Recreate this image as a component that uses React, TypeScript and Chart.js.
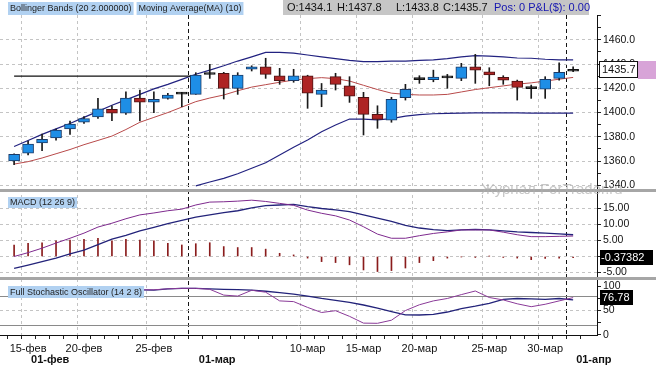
import React, { useEffect, useRef } from 'react';
import { Chart, registerables } from 'chart.js';

Chart.register(...registerables);

const W = 656;
const H = 367;
const FONT = 'Arial, "Liberation Sans", Helvetica, sans-serif';

// ---------- price data (one candle per trading session) ----------
const opens = [1360, 1366.5, 1375, 1379, 1386.5, 1392, 1396.5, 1402.7, 1399.5, 1412, 1408.5, 1411.7, 1415.2, 1415, 1432.6, 1432.4, 1420, 1435.7, 1437.8, 1430.4, 1426.3, 1430.4, 1415, 1429.6, 1422.1, 1412.6, 1398.5, 1393.8, 1412.2, 1427.2, 1427.2, 1428.6, 1428.2, 1437.8, 1433.7, 1429, 1426, 1420.2, 1419.4, 1428.2, 1434.1];
const highs = [1366, 1376.5, 1382.3, 1386.4, 1393, 1396.6, 1411.7, 1405.6, 1417.2, 1418.6, 1417.2, 1415.9, 1416.7, 1432.9, 1439.8, 1433.2, 1432.9, 1438.6, 1444.8, 1436.5, 1435.7, 1430.8, 1424, 1432.4, 1429.6, 1416.7, 1405.6, 1412.6, 1423.3, 1430.4, 1435, 1431.5, 1440.6, 1448, 1437, 1430.4, 1426.8, 1422.7, 1429.6, 1441.1, 1437.8];
const lows = [1357, 1365, 1368.5, 1377.3, 1382, 1391, 1395.2, 1393.3, 1398.5, 1393, 1400, 1411, 1404.8, 1415, 1428.2, 1411.2, 1415, 1434.3, 1428.2, 1423.3, 1425, 1403.5, 1404.8, 1418.6, 1408.4, 1381.5, 1387, 1392, 1410.3, 1424.1, 1425.4, 1420, 1426.3, 1424.1, 1422.1, 1423.3, 1410.3, 1411.7, 1411.7, 1426.8, 1433.8];
const closes = [1365.5, 1374, 1378, 1385.5, 1390.5, 1395, 1403, 1399.5, 1412, 1408.5, 1411, 1414.5, 1415.6, 1431, 1431.4, 1420, 1431, 1437.8, 1431.5, 1426.3, 1430.4, 1416, 1418.6, 1423.3, 1413.6, 1398.5, 1394.4, 1410.9, 1419.2, 1427.6, 1429.2, 1429, 1437.8, 1435, 1431, 1426.8, 1420.8, 1419.8, 1427.4, 1433.2, 1435.7];

// Bollinger Bands (20, 2) and MA(10)
const bbUpper = [1372, 1377, 1382, 1386.5, 1391, 1396, 1401, 1406, 1410.5, 1415, 1419.5, 1423.3, 1427.4, 1431.6, 1435, 1438.6, 1442.5, 1446, 1449.7, 1449.7, 1449, 1447.5, 1446, 1444.5, 1443, 1442, 1442, 1442.5, 1442.5, 1443, 1443.4, 1444.5, 1446, 1447, 1446.5, 1446, 1445, 1444.8, 1444, 1443.5, 1443.4];
const bbLower = [null, null, null, null, null, null, null, null, null, null, null, null, null, 1339.5, 1342.7, 1345.7, 1349.5, 1354, 1358.6, 1365, 1371.3, 1377.3, 1384.2, 1389.7, 1394.7, 1394.5, 1394, 1395, 1397, 1398.3, 1399, 1399.3, 1399.6, 1399.8, 1399.8, 1399.8, 1399.7, 1399.6, 1399.6, 1399.5, 1399.5];
const ma10 = [1357.5, 1359.5, 1362.5, 1366, 1369.5, 1373.5, 1377, 1380.6, 1386, 1392, 1396, 1400, 1404.5, 1409, 1412, 1414.5, 1418, 1421, 1423, 1425, 1426.8, 1428, 1428.8, 1428, 1426, 1422.5, 1419, 1416, 1415, 1414.5, 1414.5, 1415, 1417, 1419, 1420.5, 1422, 1423.5, 1424.5, 1426, 1427.5, 1429];

// horizontal level drawn on the price panel
const levelLineIdx = [0, 13];
const levelLineVal = [1430.1, 1430.1];

// MACD (12 26 9)
const macdLine = [0, 1.2, 2.6, 4.2, 5.7, 7.3, 9.2, 10.4, 11.8, 13.0, 13.6, 14.3, 14.8, 16.1, 17.0, 17.1, 17.3, 17.6, 17.2, 16.6, 16.0, 14.5, 13.5, 12.7, 11.4, 9.3, 7.0, 5.7, 5.7, 6.5, 7.2, 7.7, 8.3, 8.3, 8.3, 7.6, 6.8, 6.2, 6.2, 6.3, 6.4];
const macdSignal = [-3.7, -2.7, -1.6, -0.5, 0.8, 2.0, 3.7, 5.4, 6.6, 8.0, 9.1, 10.3, 11.3, 12.3, 13.0, 13.7, 14.3, 15.2, 15.9, 16.1, 16.3, 15.6, 15.0, 14.6, 14.0, 13.0, 12.0, 11.0, 9.7, 8.9, 8.4, 8.1, 8.3, 8.5, 8.3, 8.0, 7.7, 7.5, 7.3, 7.1, 6.8];
const macdHist = [3.6, 4.1, 4.3, 4.9, 5.1, 5.4, 5.7, 4.9, 5.4, 5.1, 4.9, 4.1, 3.6, 4.0, 4.3, 3.1, 2.8, 2.8, 2.3, 1.0, 0.5, -0.5, -1.6, -1.9, -2.6, -4.2, -4.7, -4.4, -3.6, -1.9, -1.3, -0.5, -0.1, -0.3, 0.1, -0.3, -0.5, -1.0, -0.6, -0.5, -0.37382];

// Full Stochastic Oscillator (14 2 8)
const stochK = [87, 90, 92, 93, 94, 94, 95, 94, 95, 93, 93, 95, 96, 96, 94, 82, 80, 92, 88, 70, 68.5, 56.5, 46, 49.7, 38, 24, 23.6, 30, 50, 62, 70, 75, 83, 90.5, 77, 72, 64, 58, 63, 70, 76.78];
const stochD = [85, 88, 90, 91, 92, 93, 93, 94, 94, 93, 92.5, 95, 96, 96, 95, 94, 93.5, 92.5, 90, 87, 84, 80, 75, 71, 67, 61.5, 55, 48, 41, 40.8, 42, 47, 54, 59, 65, 73, 75, 74, 73.3, 75, 72];
const stochLevels = [20, 80];

// ---------- axis labels ----------
const dateTickIdx = [1, 5, 10, 21, 25, 29, 34, 38];
const dateTickText = ['15-фев', '20-фев', '25-фев', '10-мар', '15-мар', '20-мар', '25-мар', '30-мар'];
const monthIdx = [1, 13, 40];
const monthText = ['01-фев', '01-мар', '01-апр'];
const monthLineIdx = [13, 40];

const priceTicks = [1340, 1350, 1360, 1370, 1380, 1390, 1400, 1410, 1420, 1430, 1440, 1450, 1460, 1470, 1480];
const priceLabelVals = [1340, 1360, 1380, 1400, 1420, 1440, 1460];
const priceLabelText = ['1340.0', '1360.0', '1380.0', '1400.0', '1420.0', '1440.0', '1460.0'];
const macdTicks = [-5, 0, 5, 10, 15];
const macdLabelText = ['-5.00', '0.00', '5.00', '10.00', '15.00'];
const stochTicks = [0, 25, 50, 75, 100];
const stochLabelVals = [0, 50, 100];
const stochLabelText = ['0', '50', '100'];

const headerTags = ['Bollinger Bands (20 2.000000)', 'Moving Average(MA) (10)'];
const macdTag = 'MACD (12 26 9)';
const stochTag = 'Full Stochastic Oscillator (14 2 8)';
const posText = 'Pos: 0 P&L($): 0.00';
const watermark = 'Журнал ForTrader.ru';

const last = closes.length - 1;
const idx = closes.map((_, i) => i);

export default function App() {
  const ref = useRef<HTMLCanvasElement | null>(null);

  useEffect(() => {
    const canvas = ref.current;
    if (!canvas) return;

    const isDoji = (i: number) => Math.abs(closes[i] - opens[i]) < 1.7;
    const bodyFill = (i: number) => (isDoji(i) ? '#111111' : closes[i] >= opens[i] ? '#1e8ee6' : '#ae2424');
    const bodyEdge = (i: number) => (isDoji(i) ? '#111111' : closes[i] >= opens[i] ? '#1c3a66' : '#4d1414');

    const overlay = {
      id: 'overlay',
      beforeDatasetsDraw(chart: any) {
        const { ctx, chartArea } = chart;
        const s = chart.scales.stoch;
        ctx.save();
        ctx.strokeStyle = '#8a8a8a';
        ctx.lineWidth = 1;
        stochLevels.forEach((v) => {
          const y = Math.round(s.getPixelForValue(v)) + 0.5;
          ctx.beginPath();
          ctx.moveTo(chartArea.left, y);
          ctx.lineTo(chartArea.right, y);
          ctx.stroke();
        });
        ctx.restore();
      },
      afterDraw(chart: any) {
        const { ctx } = chart;
        const xs = chart.scales.x;
        const ys = chart.scales.y;
        const ms = chart.scales.macd;
        const ss = chart.scales.stoch;
        ctx.save();

        // panel separators
        ctx.fillStyle = '#a6a6a6';
        [ms.top, ss.top].forEach((t: number) => ctx.fillRect(0, Math.round(t) - 1, W, 3));

        // watermark
        ctx.font = `15px ${FONT}`;
        ctx.fillStyle = 'rgba(175,175,175,0.7)';
        ctx.textAlign = 'left';
        ctx.textBaseline = 'alphabetic';
        ctx.fillText(watermark, 481, 194);

        const tag = (text: string, x: number, y: number, h: number, size: number) => {
          ctx.font = `${size}px ${FONT}`;
          const w = ctx.measureText(text).width;
          ctx.fillStyle = '#b1d1f1';
          ctx.fillRect(x, y, w + 4, h);
          ctx.fillStyle = '#1e1e1e';
          ctx.textAlign = 'left';
          ctx.textBaseline = 'middle';
          ctx.fillText(text, x + 2, y + h / 2 + 0.5);
          return x + w + 4;
        };
        const end1 = tag(headerTags[0], 8, 2, 13, 9);
        tag(headerTags[1], end1 + 3, 2, 13, 9);
        tag(macdTag, 8, 197, 11, 9);
        tag(stochTag, 8, 286, 12, 9);

        // OHLC header box
        ctx.fillStyle = '#c6c6c6';
        ctx.fillRect(283, 0, 306, 15);
        ctx.font = `11px ${FONT}`;
        ctx.textBaseline = 'middle';
        ctx.textAlign = 'left';
        ctx.fillStyle = '#111111';
        const ohlc = [
          `O:${opens[last].toFixed(1)}`,
          `H:${highs[last].toFixed(1)}`,
          `L:${lows[last].toFixed(1)}`,
          `C:${closes[last].toFixed(1)}`,
        ];
        const ohlcX = [287, 337, 396, 443];
        ohlc.forEach((t, k) => ctx.fillText(t, ohlcX[k], 8));
        ctx.fillStyle = '#1515b0';
        ctx.fillText(posText, 494, 8);

        // price badge
        const py = ys.getPixelForValue(closes[last]);
        ctx.fillStyle = '#ffffff';
        ctx.fillRect(599, Math.round(py) - 8, 38, 17);
        ctx.strokeStyle = '#111111';
        ctx.lineWidth = 1;
        ctx.strokeRect(599.5, Math.round(py) - 7.5, 38, 16);
        ctx.fillStyle = '#d8a4d8';
        ctx.fillRect(638, Math.round(py) - 8, 18, 18);
        ctx.fillStyle = '#111111';
        ctx.font = `11px ${FONT}`;
        ctx.fillText(closes[last].toFixed(1), 602, py + 0.5);

        // MACD badge
        const my = ms.getPixelForValue(macdHist[last]);
        ctx.fillStyle = '#000000';
        ctx.fillRect(600, Math.round(my) - 8, 53, 15);
        ctx.fillStyle = '#ffffff';
        ctx.fillText(macdHist[last].toFixed(5), 601, my);

        // Stochastic badge
        const sy = ss.getPixelForValue(stochK[last]);
        ctx.fillStyle = '#000000';
        ctx.fillRect(600, Math.round(sy) - 8, 33, 15);
        ctx.fillStyle = '#ffffff';
        ctx.fillText(stochK[last].toFixed(2), 602, sy);

        // month labels (second row)
        ctx.font = `bold 11px ${FONT}`;
        ctx.fillStyle = '#111111';
        ctx.textBaseline = 'middle';
        monthIdx.forEach((i, k) => ctx.fillText(monthText[k], xs.getPixelForValue(i) + 3, 360));

        ctx.restore();
      },
    };

    const fitY = (s: any) => {
      s.width = W - 597;
    };

    const chart = new Chart(canvas, {
      type: 'bar',
      data: {
        datasets: [
          {
            type: 'bar',
            label: 'body',
            data: idx.map((i) => ({ x: i, y: [opens[i], closes[i]] })) as any,
            xAxisID: 'x',
            yAxisID: 'y',
            barThickness: 11,
            grouped: false,
            minBarLength: 2,
            backgroundColor: (c: any) => bodyFill(c.dataIndex),
            borderColor: (c: any) => bodyEdge(c.dataIndex),
            borderWidth: 1,
            borderSkipped: false,
          } as any,
          {
            type: 'bar',
            label: 'wick',
            data: idx.map((i) => ({ x: i, y: [lows[i], highs[i]] })) as any,
            xAxisID: 'x',
            yAxisID: 'y',
            barThickness: 1,
            grouped: false,
            backgroundColor: '#1a1a1a',
            borderWidth: 0,
          } as any,
          {
            type: 'line',
            label: 'level',
            data: levelLineIdx.map((x, k) => ({ x, y: levelLineVal[k] })),
            yAxisID: 'y',
            borderColor: '#111111',
            borderWidth: 1.2,
            pointRadius: 0,
          } as any,
          {
            type: 'line',
            label: 'bbUpper',
            data: idx.map((i) => ({ x: i, y: bbUpper[i] })),
            yAxisID: 'y',
            borderColor: '#222280',
            borderWidth: 1.2,
            pointRadius: 0,
          } as any,
          {
            type: 'line',
            label: 'bbLower',
            data: idx.map((i) => ({ x: i, y: bbLower[i] })),
            yAxisID: 'y',
            borderColor: '#222280',
            borderWidth: 1.2,
            pointRadius: 0,
          } as any,
          {
            type: 'line',
            label: 'ma10',
            data: idx.map((i) => ({ x: i, y: ma10[i] })),
            yAxisID: 'y',
            borderColor: '#b84a4a',
            borderWidth: 1,
            pointRadius: 0,
          } as any,
          {
            type: 'line',
            label: 'macd',
            data: idx.map((i) => ({ x: i, y: macdLine[i] })),
            yAxisID: 'macd',
            borderColor: '#7e2a8e',
            borderWidth: 1,
            pointRadius: 0,
          } as any,
          {
            type: 'line',
            label: 'signal',
            data: idx.map((i) => ({ x: i, y: macdSignal[i] })),
            yAxisID: 'macd',
            borderColor: '#23237a',
            borderWidth: 1.3,
            pointRadius: 0,
          } as any,
          {
            type: 'bar',
            label: 'hist',
            data: idx.map((i) => ({ x: i, y: macdHist[i] })) as any,
            yAxisID: 'macd',
            barThickness: 1,
            grouped: false,
            backgroundColor: '#8a1c1c',
            borderWidth: 0,
          } as any,
          {
            type: 'line',
            label: 'stochK',
            data: idx.map((i) => ({ x: i, y: stochK[i] })),
            yAxisID: 'stoch',
            borderColor: '#8a3a98',
            borderWidth: 1,
            pointRadius: 0,
          } as any,
          {
            type: 'line',
            label: 'stochD',
            data: idx.map((i) => ({ x: i, y: stochD[i] })),
            yAxisID: 'stoch',
            borderColor: '#23237a',
            borderWidth: 1.3,
            pointRadius: 0,
          } as any,
        ],
      },
      options: {
        responsive: false,
        animation: false,
        events: [],
        layout: { padding: { top: 15, left: 0, right: 0, bottom: 0 } },
        plugins: { legend: { display: false }, tooltip: { enabled: false } },
        scales: {
          x: {
            type: 'linear',
            position: 'bottom',
            min: -0.4887,
            max: 41.187,
            afterBuildTicks: (s: any) => {
              s.ticks = idx.map((v) => ({ value: v }));
            },
            afterFit: (s: any) => {
              s.height = H - 335;
            },
            ticks: {
              autoSkip: false,
              maxRotation: 0,
              minRotation: 0,
              padding: 3,
              color: '#111111',
              font: { size: 11, family: FONT },
              callback: (v: any) => {
                const k = dateTickIdx.indexOf(v);
                return k >= 0 ? dateTickText[k] : '';
              },
            },
            grid: {
              color: (c: any) => {
                const v = c.tick ? c.tick.value : -1;
                if (monthLineIdx.includes(v)) return '#151515';
                if (dateTickIdx.includes(v)) return '#c4c4c4';
                return 'rgba(0,0,0,0)';
              },
              lineWidth: 1,
              tickColor: '#222222',
              tickLength: 4,
            },
            border: {
              color: '#111111',
              width: 1,
              dash: (c: any) => (c.tick && monthLineIdx.includes(c.tick.value) ? [4, 3] : [3, 3]),
            },
          } as any,
          y: {
            type: 'linear',
            position: 'right',
            stack: 'panels',
            stackWeight: 175,
            weight: 0,
            min: 1336.1,
            max: 1480.5,
            afterBuildTicks: (s: any) => {
              s.ticks = priceTicks.map((v) => ({ value: v }));
            },
            afterFit: fitY,
            ticks: {
              autoSkip: false,
              padding: 2,
              color: '#111111',
              font: { size: 10.5, family: FONT },
              callback: (v: any) => {
                const k = priceLabelVals.indexOf(v);
                return k >= 0 ? priceLabelText[k] : '';
              },
            },
            grid: {
              color: (c: any) => (c.tick && priceLabelVals.includes(c.tick.value) ? '#c4c4c4' : 'rgba(0,0,0,0)'),
              tickColor: '#222222',
              tickLength: 4,
            },
            border: { color: '#111111', width: 1, dash: [3, 3] },
          } as any,
          macd: {
            type: 'linear',
            position: 'right',
            stack: 'panels',
            stackWeight: 88,
            weight: 1,
            min: -6.72,
            max: 20.78,
            afterBuildTicks: (s: any) => {
              s.ticks = macdTicks.map((v) => ({ value: v }));
            },
            afterFit: fitY,
            ticks: {
              autoSkip: false,
              padding: 2,
              color: '#111111',
              font: { size: 10.5, family: FONT },
              callback: (v: any) => {
                const k = macdTicks.indexOf(v);
                return k >= 0 ? macdLabelText[k] : '';
              },
            },
            grid: { color: '#c4c4c4', tickColor: '#222222', tickLength: 4 },
            border: { color: '#111111', width: 1, dash: [3, 3] },
          } as any,
          stoch: {
            type: 'linear',
            position: 'right',
            stack: 'panels',
            stackWeight: 57,
            weight: 2,
            min: -0.6,
            max: 117.4,
            afterBuildTicks: (s: any) => {
              s.ticks = stochTicks.map((v) => ({ value: v }));
            },
            afterFit: fitY,
            ticks: {
              autoSkip: false,
              padding: 2,
              color: '#111111',
              font: { size: 10.5, family: FONT },
              callback: (v: any) => {
                const k = stochLabelVals.indexOf(v);
                return k >= 0 ? stochLabelText[k] : '';
              },
            },
            grid: {
              color: (c: any) => (c.tick && c.tick.value === 50 ? '#c4c4c4' : 'rgba(0,0,0,0)'),
              tickColor: '#222222',
              tickLength: 4,
            },
            border: { color: '#111111', width: 1, dash: [3, 3] },
          } as any,
        },
      },
      plugins: [overlay as any],
    });

    return () => chart.destroy();
  }, []);

  return (
    <div style={{ position: 'absolute', left: 0, top: 0, width: W, height: H, background: '#ffffff' }}>
      <canvas ref={ref} width={W} height={H} style={{ display: 'block', width: W, height: H }} />
    </div>
  );
}
